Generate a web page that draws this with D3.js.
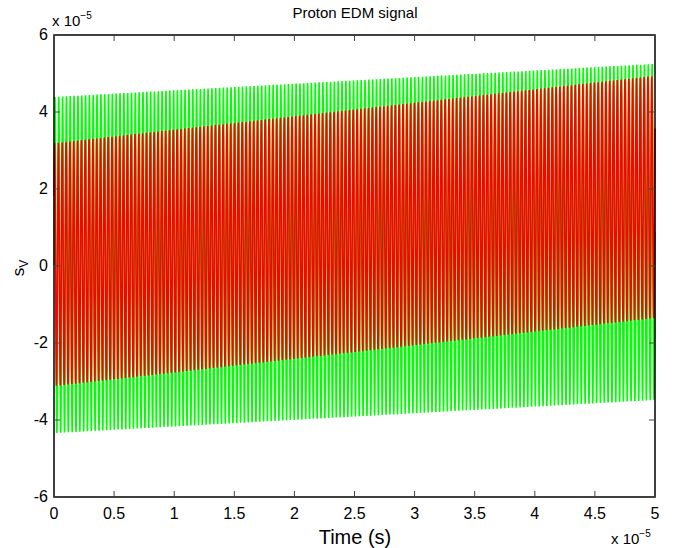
<!DOCTYPE html>
<meta charset="utf-8">
<style>
body { margin: 0; background: #fff; }
text { font-family: "Liberation Sans", Arial, sans-serif; fill: #000; }
</style>
<svg width="683" height="548"></svg>
<script src="https://d3js.org/d3.v7.min.js"></script>
<script>
// values (units of 1e-5)
var xTicks = [0, 0.5, 1, 1.5, 2, 2.5, 3, 3.5, 4, 4.5, 5]
var yTicks = [-6, -4, -2, 0, 2, 4, 6]
var tRange = [0, 5]
// envelope [upper, lower] at t=0 and at t=5
var greenStart = [4.39, -4.34], greenEnd = [5.25, -3.48]
var redStart = [3.19, -3.12], redEnd = [4.94, -1.35]
var cycles = 157
var samples = 6280

var svg = d3.select("svg")
var axL = 54, axR = 655, axT = 35, axB = 497

var x = d3.scaleLinear().domain(tRange).range([axL, axR])
var y = d3.scaleLinear().domain([-6, 6]).range([axB, axT])

// build each trace from the envelope values
function trace(start, end, phase) {
  var pts = []
  for (var i = 0; i <= samples; i++) {
    var t = tRange[0] + (tRange[1] - tRange[0]) * i / samples
    var f = (t - tRange[0]) / (tRange[1] - tRange[0])
    var hi = start[0] + (end[0] - start[0]) * f
    var lo = start[1] + (end[1] - start[1]) * f
    var v = (hi + lo) / 2 + (hi - lo) / 2 * Math.sin(2 * Math.PI * cycles * f + phase)
    pts.push([t, v])
  }
  return pts
}

var line = d3.line().x(function(d) { return x(d[0]) }).y(function(d) { return y(d[1]) })

svg.append("path").attr("d", line(trace(greenStart, greenEnd, 0)))
  .attr("fill", "none").attr("stroke", "#00ff00").attr("stroke-width", 1.6)
svg.append("path").attr("d", line(trace(redStart, redEnd, 0.6)))
  .attr("fill", "none").attr("stroke", "#ff0000").attr("stroke-width", 1.6)

// axes box, MATLAB style ticks inside
var g = svg.append("g")
g.append("rect").attr("x", axL).attr("y", axT).attr("width", axR - axL).attr("height", axB - axT)
  .attr("fill", "none").attr("stroke", "#000").attr("stroke-width", 1.5)

g.selectAll(".xt").data(xTicks).enter().append("path")
  .attr("d", function(d) { return "M" + x(d) + "," + axB + "v-6M" + x(d) + "," + axT + "v6" })
  .attr("stroke", "#444").attr("stroke-width", 1)
g.selectAll(".yt").data(yTicks).enter().append("path")
  .attr("d", function(d) { return "M" + axL + "," + y(d) + "h6M" + axR + "," + y(d) + "h-6" })
  .attr("stroke", "#444").attr("stroke-width", 1)

g.selectAll(".xl").data(xTicks).enter().append("text")
  .attr("x", function(d) { return x(d) }).attr("y", axB + 22)
  .attr("text-anchor", "middle").attr("font-size", 16).text(function(d) { return d })
g.selectAll(".yl").data(yTicks).enter().append("text")
  .attr("x", axL - 6).attr("y", function(d) { return y(d) + 5 })
  .attr("text-anchor", "end").attr("font-size", 16).text(function(d) { return d })

// exponent labels
var e1 = svg.append("text").attr("x", 52).attr("y", 26).attr("font-size", 15)
e1.append("tspan").text("x 10")
e1.append("tspan").attr("dy", -7).attr("font-size", 10).text("\u22125")
var e2 = svg.append("text").attr("x", 611).attr("y", 544).attr("font-size", 15)
e2.append("tspan").text("x 10")
e2.append("tspan").attr("dy", -7).attr("font-size", 10).text("\u22125")

svg.append("text").attr("x", 355).attr("y", 18).attr("text-anchor", "middle")
  .attr("font-size", 15).text("Proton EDM signal")
svg.append("text").attr("x", 355).attr("y", 544).attr("text-anchor", "middle")
  .attr("font-size", 20).text("Time (s)")

var yl = svg.append("text").attr("transform", "translate(24,268) rotate(-90)")
  .attr("text-anchor", "middle").attr("font-size", 17)
yl.append("tspan").text("s")
yl.append("tspan").attr("dy", 4).attr("font-size", 12).text("V")
</script>
